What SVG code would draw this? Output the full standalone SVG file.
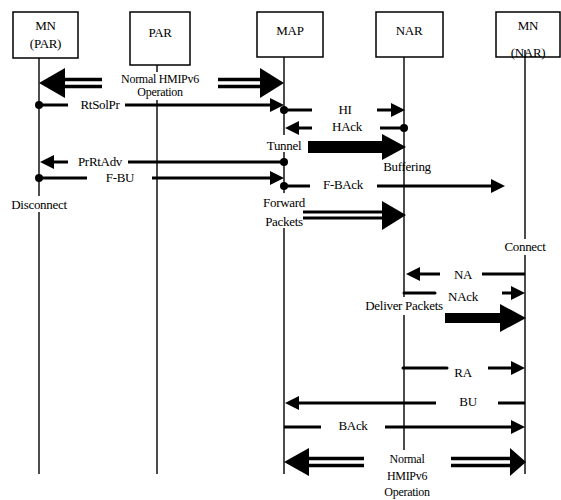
<svg xmlns="http://www.w3.org/2000/svg" width="561" height="500" viewBox="0 0 561 500">
<style>
text{font-family:"Liberation Serif","Times New Roman",serif;font-size:13px;fill:#000;text-anchor:middle;letter-spacing:-0.3px}
text.sm{font-size:12px}
.box{fill:#fff;stroke:#000;stroke-width:1.5}
.life{stroke:#000;stroke-width:1.4;fill:none}
.msg{stroke:#000;stroke-width:3;fill:none}
.dbl{stroke:#000;stroke-width:3.5;fill:none}
.head{fill:#000;stroke:none}
.dot{fill:#000}
.bg{fill:#fff}
</style>
<defs>
<marker id="ah" viewBox="0 0 14 14" markerUnits="userSpaceOnUse" markerWidth="14" markerHeight="14" refX="1" refY="7" orient="auto">
<path d="M0,0 L14,7 L0,14 z" fill="#000"/>
</marker>
</defs>
<rect width="561" height="500" fill="#fff"/>

<g id="lifelines">
<line class="life" x1="39" y1="58" x2="39" y2="474"/>
<line class="life" x1="157" y1="65" x2="157" y2="474"/>
<line class="life" x1="284" y1="50" x2="284" y2="474"/>
<line class="life" x1="404" y1="50" x2="404" y2="450"/>
<line class="life" x1="525" y1="55" x2="525" y2="474"/>
</g>

<g id="node-mn-par">
<rect class="box" x="13" y="12" width="65" height="46"/>
<text x="45.5" y="30">MN</text>
<text x="45.5" y="48">(PAR)</text>
</g>
<g id="node-par">
<rect class="box" x="130" y="12" width="60" height="53"/>
<text x="160" y="37">PAR</text>
</g>
<g id="node-map">
<rect class="box" x="257" y="12" width="66" height="45"/>
<text x="290" y="35">MAP</text>
</g>
<g id="node-nar">
<rect class="box" x="376" y="12" width="67" height="45"/>
<text x="409" y="35">NAR</text>
</g>
<g id="node-mn-nar">
<rect class="box" x="496" y="12" width="64" height="45"/>
<text x="528" y="30">MN</text>
<text x="528" y="57">(NAR)</text>
<line class="life" x1="525" y1="50" x2="525" y2="58"/>
</g>

<g id="label-backgrounds">
<rect class="bg" x="112" y="72" width="96" height="28"/>
<rect class="bg" x="264" y="135" width="40" height="17"/>
<rect class="bg" x="8" y="196" width="62" height="16"/>
<rect class="bg" x="260" y="193" width="46" height="35"/>
<rect class="bg" x="503" y="239" width="45" height="16"/>
<rect class="bg" x="361" y="297" width="86" height="18"/>
</g>

<g id="connectors">
<!-- top Normal HMIPv6 Operation -->
<polygon class="head" points="39,83 65,68 65,98"/>
<line class="dbl" x1="64" y1="79.5" x2="102" y2="79.5"/>
<line class="dbl" x1="64" y1="86.5" x2="102" y2="86.5"/>
<line class="dbl" x1="218" y1="79.5" x2="261" y2="79.5"/>
<line class="dbl" x1="218" y1="86.5" x2="261" y2="86.5"/>
<polygon class="head" points="260,68 284,83 260,98"/>
<!-- RtSolPr -->
<circle class="dot" cx="39" cy="105" r="4"/>
<line class="msg" x1="39" y1="105" x2="68" y2="105"/>
<line class="msg" x1="125" y1="105" x2="271" y2="105" marker-end="url(#ah)"/>
<!-- HI -->
<circle class="dot" cx="284" cy="110" r="4"/>
<line class="msg" x1="284" y1="110" x2="312" y2="110"/>
<line class="msg" x1="377" y1="110" x2="392" y2="110" marker-end="url(#ah)"/>
<!-- HAck -->
<circle class="dot" cx="404" cy="128" r="4"/>
<line class="msg" x1="404" y1="128" x2="380" y2="128"/>
<line class="msg" x1="312" y1="128" x2="298" y2="128" marker-end="url(#ah)"/>
<!-- Tunnel -->
<rect class="head" x="308" y="141" width="75" height="12"/>
<polygon class="head" points="382,134 406,147 382,160"/>
<!-- PrRtAdv -->
<circle class="dot" cx="284" cy="162" r="4"/>
<line class="msg" x1="284" y1="162" x2="128" y2="162"/>
<line class="msg" x1="68" y1="162" x2="53" y2="162" marker-end="url(#ah)"/>
<!-- F-BU -->
<circle class="dot" cx="39" cy="178" r="4"/>
<line class="msg" x1="39" y1="178" x2="87" y2="178"/>
<line class="msg" x1="152" y1="178" x2="271" y2="178" marker-end="url(#ah)"/>
<!-- F-BAck -->
<circle class="dot" cx="284" cy="186" r="4"/>
<line class="msg" x1="284" y1="186" x2="310" y2="186"/>
<line class="msg" x1="377" y1="186" x2="492" y2="186" marker-end="url(#ah)"/>
<!-- Forward Packets -->
<line class="msg" x1="303" y1="212" x2="384" y2="212"/>
<line class="msg" x1="303" y1="218" x2="384" y2="218"/>
<polygon class="head" points="382,201 406,215 382,230"/>
<!-- NA -->
<line class="msg" x1="525" y1="274" x2="482" y2="274"/>
<line class="msg" x1="440" y1="274" x2="419" y2="274" marker-end="url(#ah)"/>
<!-- NAck -->
<line class="msg" x1="404" y1="293" x2="435" y2="293" stroke-linecap="round"/>
<line class="msg" x1="502" y1="293" x2="512" y2="293" marker-end="url(#ah)"/>
<!-- Deliver Packets -->
<rect class="head" x="445" y="313" width="56" height="10"/>
<polygon class="head" points="500,304 526,318 500,332"/>
<!-- RA -->
<line class="msg" x1="403" y1="368" x2="447" y2="368" stroke-linecap="round"/>
<line class="msg" x1="488" y1="368" x2="512" y2="368" marker-end="url(#ah)"/>
<!-- BU -->
<line class="msg" x1="525" y1="403" x2="498" y2="403"/>
<line class="msg" x1="436" y1="403" x2="298" y2="403" marker-end="url(#ah)"/>
<!-- BAck -->
<line class="msg" x1="284" y1="427" x2="321" y2="427"/>
<line class="msg" x1="385" y1="427" x2="512" y2="427" marker-end="url(#ah)"/>
<!-- bottom Normal HMIPv6 Operation -->
<polygon class="head" points="284,462 309,448 309,476"/>
<line class="dbl" x1="308" y1="458.5" x2="364" y2="458.5"/>
<line class="dbl" x1="308" y1="465.5" x2="364" y2="465.5"/>
<line class="dbl" x1="451" y1="458.5" x2="511" y2="458.5"/>
<line class="dbl" x1="451" y1="465.5" x2="511" y2="465.5"/>
<polygon class="head" points="510,448 526,462 510,476"/>
</g>

<g id="labels">
<text class="sm" x="160" y="83">Normal HMIPv6</text>
<text class="sm" x="160" y="96">Operation</text>
<text x="100" y="109">RtSolPr</text>
<text x="345" y="114">HI</text>
<text x="347" y="131">HAck</text>
<text x="284" y="150">Tunnel</text>
<text x="100" y="166">PrRtAdv</text>
<text x="120" y="182">F-BU</text>
<text x="407" y="171">Buffering</text>
<text x="343" y="189">F-BAck</text>
<text x="39" y="209">Disconnect</text>
<text x="284" y="207">Forward</text>
<text x="284" y="226">Packets</text>
<text x="525" y="251">Connect</text>
<text x="463" y="279">NA</text>
<text x="463" y="301">NAck</text>
<text x="404" y="310">Deliver Packets</text>
<text x="463" y="377">RA</text>
<text x="468" y="406">BU</text>
<text x="353" y="430">BAck</text>
<text class="sm" x="407" y="463">Normal</text>
<text class="sm" x="407" y="480">HMIPv6</text>
<text class="sm" x="407" y="496">Operation</text>
</g>
</svg>
